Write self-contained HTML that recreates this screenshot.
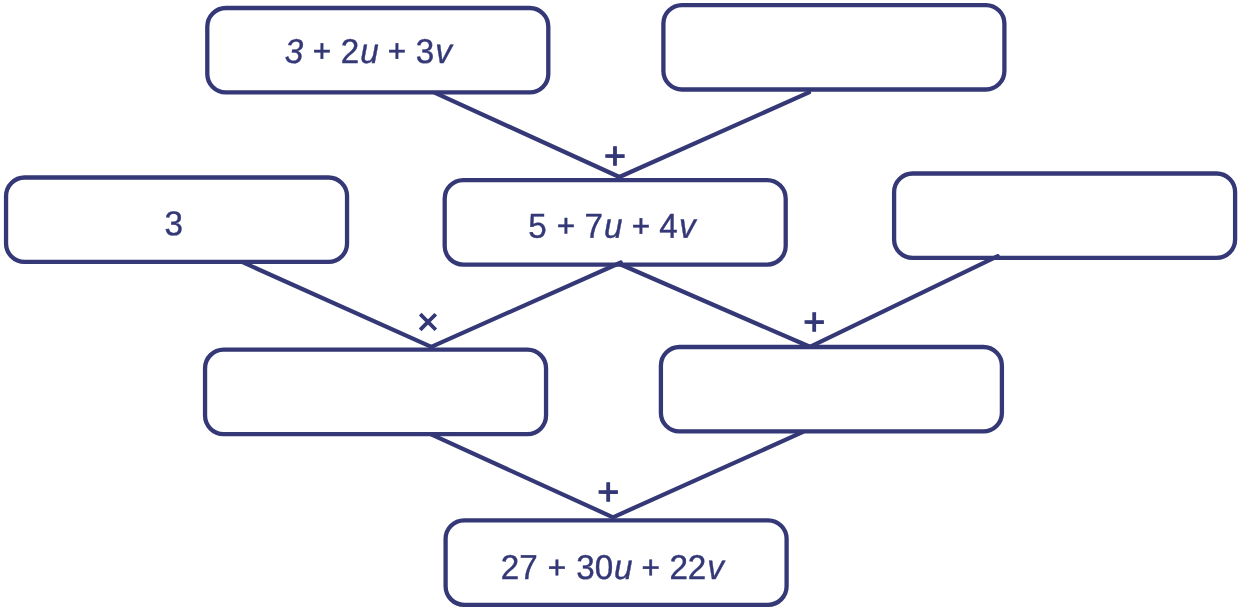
<!DOCTYPE html>
<html><head><meta charset="utf-8"><title>Diagram</title>
<style>
html,body{margin:0;padding:0;background:#fff;}
svg{display:block;will-change:transform;}
text{font-family:"Liberation Sans",Arial,Helvetica,sans-serif;fill:#343876;stroke:#343876;}
.t{font-size:34.5px;stroke-width:0.4px;}
.p{font-size:31.5px;stroke-width:0.55px;text-anchor:middle;}
.op{font-size:37.6px;stroke-width:1.05px;text-anchor:middle;}
</style></head><body>
<svg width="1241" height="608" viewBox="0 0 1241 608">
<rect width="1241" height="608" fill="#fff"/>
<g fill="none" stroke="#343876" stroke-width="4.2" stroke-linecap="round">
<line x1="435.1" y1="92.9" x2="619.4" y2="177.0"/>
<line x1="809.0" y1="92.4" x2="619.4" y2="177.0"/>
<line x1="242.5" y1="262.2" x2="431.3" y2="346.8"/>
<line x1="620.8" y1="262.5" x2="431.3" y2="346.8"/>
<line x1="619.5" y1="264.0" x2="809.9" y2="346.8"/>
<line x1="997.7" y1="256.2" x2="809.9" y2="346.8"/>
<line x1="430.6" y1="434.2" x2="613.0" y2="517.3"/>
<line x1="802.5" y1="432.2" x2="613.0" y2="517.3"/>
</g>
<g fill="none" stroke="#343876" stroke-width="4.3">
<rect x="207.30" y="8.00" width="341" height="84.4" rx="18.5" ry="18.5"/>
<rect x="663.40" y="5.10" width="341" height="84.4" rx="18.5" ry="18.5"/>
<rect x="6.05" y="177.50" width="341" height="84.4" rx="18.5" ry="18.5"/>
<rect x="444.70" y="180.15" width="341" height="84.4" rx="18.5" ry="18.5"/>
<rect x="894.10" y="173.50" width="341" height="84.4" rx="18.5" ry="18.5"/>
<rect x="205.05" y="349.70" width="341" height="84.4" rx="18.5" ry="18.5"/>
<rect x="660.90" y="347.00" width="341" height="84.4" rx="18.5" ry="18.5"/>
<rect x="445.60" y="520.40" width="341" height="84.4" rx="18.5" ry="18.5"/>
</g>
<g>
<text class="t" transform="translate(284.80 63.00) rotate(0.03) scale(0.962 1)"><tspan font-style="italic">3</tspan></text>
<text class="p" transform="translate(321.90 61.48) rotate(0.03)">+</text>
<text class="t" transform="translate(340.79 63.00) rotate(0.03) scale(0.962 1)">2<tspan dx="1.04" font-style="italic">u</tspan></text>
<text class="p" transform="translate(396.90 61.48) rotate(0.03)">+</text>
<text class="t" transform="translate(415.73 63.00) rotate(0.03) scale(0.962 1)">3<tspan dx="1.04" font-style="italic">v</tspan></text>
</g>
<g>
<text class="t" transform="translate(164.60 235.30) rotate(0.03) scale(0.962 1)">3</text>
</g>
<g>
<text class="t" transform="translate(528.20 237.80) rotate(0.03) scale(0.962 1)">5</text>
<text class="p" transform="translate(565.85 236.28) rotate(0.03)">+</text>
<text class="t" transform="translate(584.49 237.80) rotate(0.03) scale(0.962 1)">7<tspan dx="1.09" font-style="italic">u</tspan></text>
<text class="p" transform="translate(640.85 236.38) rotate(0.03)">+</text>
<text class="t" transform="translate(659.23 237.80) rotate(0.03) scale(0.962 1)">4<tspan dx="1.35" font-style="italic">v</tspan></text>
</g>
<g>
<text class="t" transform="translate(500.80 579.10) rotate(0.03) scale(0.962 1)">27</text>
<text class="p" transform="translate(557.00 577.88) rotate(0.03)">+</text>
<text class="t" transform="translate(576.34 579.10) rotate(0.03) scale(0.962 1)">30<tspan dx="0.73" font-style="italic">u</tspan></text>
<text class="p" transform="translate(650.80 577.88) rotate(0.03)">+</text>
<text class="t" transform="translate(669.39 579.10) rotate(0.03) scale(0.962 1)">22<tspan dx="0.99" font-style="italic">v</tspan></text>
</g>
<g>
<text class="op" transform="translate(615.00 168.41) rotate(0.03)">+</text>
<text class="op" transform="translate(428.00 334.41) rotate(0.03)">×</text>
<text class="op" transform="translate(814.10 334.61) rotate(0.03)">+</text>
<text class="op" transform="translate(608.30 504.41) rotate(0.03)">+</text>
</g>
</svg>
</body></html>
